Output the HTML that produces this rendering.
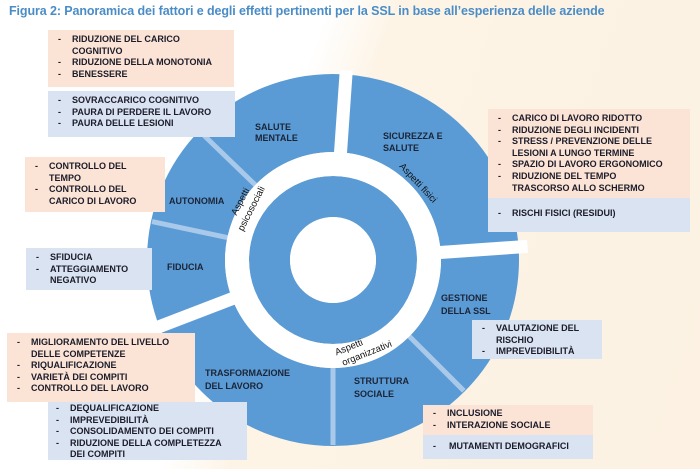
<!DOCTYPE html>
<html><head><meta charset="utf-8"><style>
body{margin:0;width:700px;height:469px;overflow:hidden;position:relative;font-family:"Liberation Sans",Arial,sans-serif;
background:linear-gradient(110deg,#ffffff 0%,#ffffff 38%,#fdf4e6 46%,#fcf1e2 100%);}
.t{position:absolute;left:9px;top:4px;font-size:12.5px;font-weight:bold;color:#4a8cc6;white-space:nowrap;letter-spacing:-0.1px}
.b{position:absolute;font-size:9px;font-weight:bold;color:#1b1b2a;line-height:11.6px;box-sizing:border-box;padding-top:4px}
.p{background:#fbe4d5}.u{background:#dae3f1}
.b div{position:relative;padding-left:var(--i,24px)}
.b div.d:before{content:"-";position:absolute;left:var(--bx,10px)}
svg{position:absolute;left:0;top:0}
</style></head><body>
<div class="t">Figura 2: Panoramica dei fattori e degli effetti pertinenti per la SSL in base all’esperienza delle aziende</div>
<svg width="700" height="469" viewBox="0 0 700 469">
<g transform="translate(333,260)">
<circle r="147" fill="none" stroke="#5b9bd5" stroke-width="78"/>
<circle r="63.5" fill="none" stroke="#5b9bd5" stroke-width="41"/>
<g stroke="#a9c9ea" stroke-width="5">
<line x1="0" y1="108" x2="0" y2="185"/>
<line x1="108" y1="0" x2="185" y2="0" transform="rotate(45)"/>
<line x1="108" y1="0" x2="185" y2="0" transform="rotate(224)"/>
<line x1="108" y1="0" x2="185" y2="0" transform="rotate(192)"/>
</g>
<circle r="96" fill="none" stroke="#fff" stroke-width="24"/>
<circle r="43" fill="#fff"/>
<g stroke="#fff" stroke-width="13">
<line x1="100" y1="0" x2="190" y2="0" transform="rotate(-86)"/>
<line x1="100" y1="0" x2="195" y2="0" transform="rotate(-4)"/>
<line x1="100" y1="0" x2="190" y2="0" transform="rotate(159)"/>
</g>
</g>
<g font-family="Liberation Sans,Arial,sans-serif" font-weight="bold" font-size="9" fill="#1b2436">
<text x="255" y="130">SALUTE</text><text x="255" y="141">MENTALE</text>
<text x="383" y="139">SICUREZZA E</text><text x="383" y="151">SALUTE</text>
<text x="169" y="204">AUTONOMIA</text>
<text x="167" y="270">FIDUCIA</text>
<text x="441" y="301">GESTIONE</text><text x="441" y="314">DELLA SSL</text>
<text x="354" y="384">STRUTTURA</text><text x="354" y="397">SOCIALE</text>
<text x="205" y="376">TRASFORMAZIONE</text><text x="205" y="389">DEL LAVORO</text>
</g>
<g font-family="Liberation Sans,Arial,sans-serif" font-size="9.5" fill="#111" text-anchor="middle">
<text transform="translate(243,203) rotate(-63)">Aspetti</text>
<text transform="translate(254,210) rotate(-63)">psicosociali</text>
<text transform="translate(416,185) rotate(47)">Aspetti fisici</text>
<text transform="translate(350,350) rotate(-22)">Aspetti</text>
<text transform="translate(368,356) rotate(-22)">organizzativi</text>
</g>
</svg>
<div class="b p" style="left:48px;top:30px;width:186px;height:57px"><div class="d">RIDUZIONE DEL CARICO</div><div>COGNITIVO</div><div class="d">RIDUZIONE DELLA MONOTONIA</div><div class="d">BENESSERE</div></div>
<div class="b u" style="left:48px;top:91px;width:187px;height:46px"><div class="d">SOVRACCARICO COGNITIVO</div><div class="d">PAURA DI PERDERE IL LAVORO</div><div class="d">PAURA DELLE LESIONI</div></div>
<div class="b p" style="left:25px;top:157px;width:140px;height:55px;--i:24px"><div class="d">CONTROLLO DEL</div><div>TEMPO</div><div class="d">CONTROLLO DEL</div><div>CARICO DI LAVORO</div></div>
<div class="b u" style="left:26px;top:248px;width:126px;height:42px"><div class="d">SFIDUCIA</div><div class="d">ATTEGGIAMENTO</div><div>NEGATIVO</div></div>
<div class="b p" style="left:7px;top:333px;width:188px;height:69px;--i:24px"><div class="d">MIGLIORAMENTO DEL LIVELLO</div><div>DELLE COMPETENZE</div><div class="d">RIQUALIFICAZIONE</div><div class="d">VARIETÀ DEI COMPITI</div><div class="d">CONTROLLO DEL LAVORO</div></div>
<div class="b u" style="left:48px;top:402px;width:199px;height:58px;padding-top:1px;--i:22px;--bx:8px"><div class="d">DEQUALIFICAZIONE</div><div class="d">IMPREVEDIBILITÀ</div><div class="d">CONSOLIDAMENTO DEI COMPITI</div><div class="d">RIDUZIONE DELLA COMPLETEZZA</div><div>DEI COMPITI</div></div>
<div class="b p" style="left:488px;top:109px;width:202px;height:89px"><div class="d">CARICO DI LAVORO RIDOTTO</div><div class="d">RIDUZIONE DEGLI INCIDENTI</div><div class="d">STRESS / PREVENZIONE DELLE</div><div>LESIONI A LUNGO TERMINE</div><div class="d">SPAZIO DI LAVORO ERGONOMICO</div><div class="d">RIDUZIONE DEL TEMPO</div><div>TRASCORSO ALLO SCHERMO</div></div>
<div class="b u" style="left:488px;top:198px;width:202px;height:34px;padding-top:10px"><div class="d">RISCHI FISICI (RESIDUI)</div></div>
<div class="b u" style="left:472px;top:320px;width:130px;height:39px;padding-top:3px"><div class="d">VALUTAZIONE DEL</div><div>RISCHIO</div><div class="d">IMPREVEDIBILITÀ</div></div>
<div class="b p" style="left:423px;top:405px;width:170px;height:30px;padding-top:3px"><div class="d">INCLUSIONE</div><div class="d">INTERAZIONE SOCIALE</div></div>
<div class="b u" style="left:423px;top:435px;width:170px;height:24px;padding-top:6px;--i:26px"><div class="d">MUTAMENTI DEMOGRAFICI</div></div>
</body></html>
